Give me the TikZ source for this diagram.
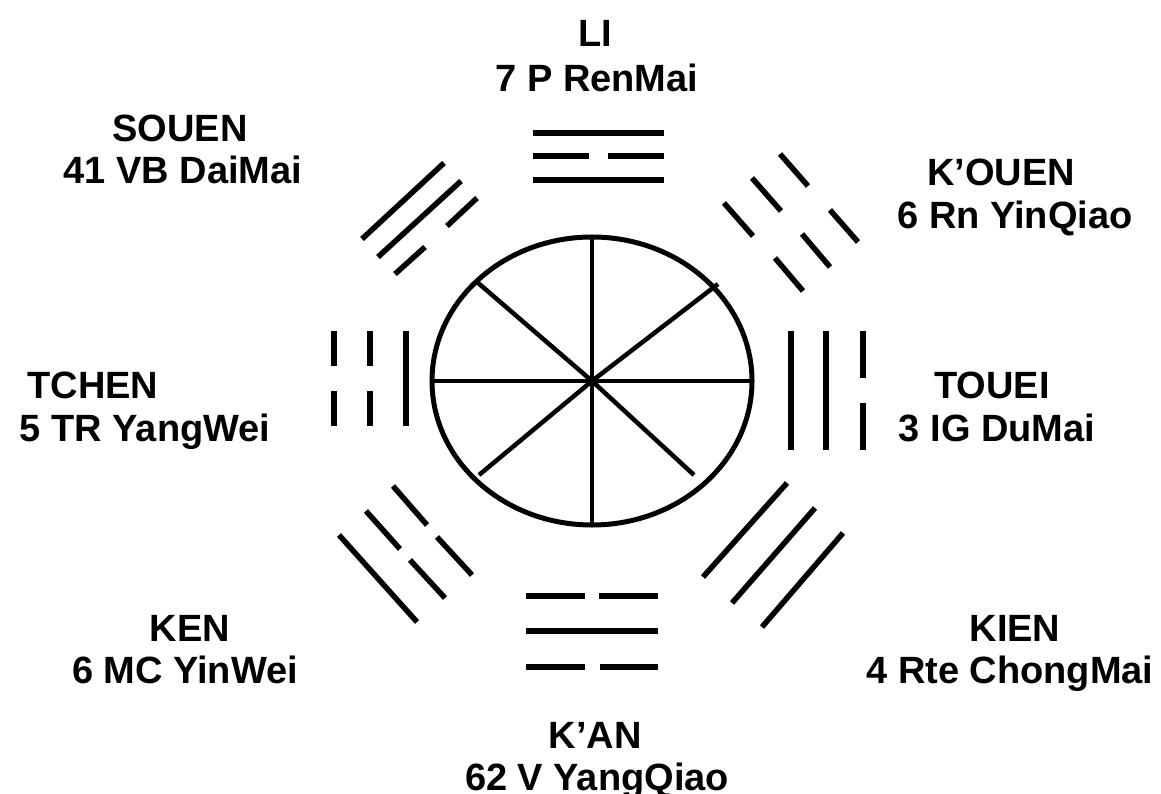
\documentclass[tikz,border=0pt]{standalone}
\usepackage{fontspec}
\setmainfont{Liberation Sans}
\usepackage{tikz}
\usepackage{tkz-euclide}

\tikzset{
  barra/.style={line width=5.5pt},
  roda/.style={line width=4.5pt},
  rotulo/.style={font=\bfseries\fontsize{38}{42}\selectfont, inner sep=0pt, text height=27pt, text depth=0pt}
}

\begin{document}
\begin{tikzpicture}[x=1pt,y=-1pt] %unidades em pixels, eixo y para baixo

\useasboundingbox (0,0) rectangle (1161,794);

%O comando \tkzDefPoints define os pontos da roda central (x/y/NomedoPonto)
\tkzDefPoints{
592/381/O,
592/237/N,
592/525/S,
433/381/W,
752/381/E,
477/282/NW,
718/284/NE,
479/475/SW,
694/475/SE}

%Pontos das barras dos trigramas
\tkzDefPoints{
533/133/Li1, 664/133/Li2, 533/156/Li3, 589/156/Li4, 608/156/Li5, 664/156/Li6, 533/180/Li7, 664/180/Li8,
526/596/Ka1, 585/596/Ka2, 599/596/Ka3, 658/596/Ka4, 526/631/Ka5, 658/631/Ka6, 526/667/Ka7, 585/667/Ka8, 600/667/Ka9, 658/667/Ka10,
334/331/Tc1, 334/366/Tc2, 334/391/Tc3, 334/426/Tc4, 370/331/Tc5, 370/366/Tc6, 370/391/Tc7, 370/426/Tc8, 406/331/Tc9, 406/426/Tc10,
791/331/To1, 791/450/To2, 826/331/To3, 826/450/To4, 863/331/To5, 863/378/To6, 863/403/To7, 863/450/To8,
362/239/So1, 444/163/So2, 378/257/So3, 461/181/So4, 395/274/So5, 425/247/So6, 447/226/So7, 477/198/So8,
780/154/Ko1, 808/186/Ko2, 830/210/Ko3, 858/242/Ko4, 752/178/Ko5, 781/211/Ko6, 802/234/Ko7, 830/267/Ko8, 724/203/Ko9, 753/236/Ko10, 775/258/Ko11, 803/291/Ko12,
339/535/Ke1, 417/622/Ke2, 366/511/Ke3, 400/549/Ke4, 410/560/Ke5, 445/598/Ke6, 393/486/Ke7, 427/525/Ke8, 437/537/Ke9, 472/575/Ke10,
703/577/Ki1, 787/483/Ki2, 732/603/Ki3, 815/508/Ki4, 762/627/Ki5, 843/533/Ki6}

%Roda central: elipse com oito raios saindo do centro (O)
%---------------------------------------------------
\draw[line width=5pt] (O) ellipse [x radius=160, y radius=144];
\foreach \p in {N,S,W,E,NW,NE,SW,SE}
  \draw[roda] (O) -- (\p);
%---------------------------------------------------

%Barras dos trigramas: cada par de pontos gera um segmento (inteiro ou partido)
%---------------------------------------------------
\foreach \a/\b in {Li1/Li2, Li3/Li4, Li5/Li6, Li7/Li8,
                   Ka1/Ka2, Ka3/Ka4, Ka5/Ka6, Ka7/Ka8, Ka9/Ka10,
                   Tc1/Tc2, Tc3/Tc4, Tc5/Tc6, Tc7/Tc8, Tc9/Tc10,
                   To1/To2, To3/To4, To5/To6, To7/To8,
                   So1/So2, So3/So4, So5/So6, So7/So8,
                   Ko1/Ko2, Ko3/Ko4, Ko5/Ko6, Ko7/Ko8, Ko9/Ko10, Ko11/Ko12,
                   Ke1/Ke2, Ke3/Ke4, Ke5/Ke6, Ke7/Ke8, Ke9/Ke10,
                   Ki1/Ki2, Ki3/Ki4, Ki5/Ki6}
  \draw[barra] (\a) -- (\b);
%---------------------------------------------------

%Rótulos: nome do trigrama e ponto/meridiano logo abaixo
%---------------------------------------------------
\node[rotulo] (nLI)  at (595,33)  {LI};
\node[rotulo] (pLI)  at (597,78)  {7 P RenMai};
\node[rotulo] (nSO)  at (180,128) {SOUEN};
\node[rotulo] (pSO)  at (183,170) {41 VB DaiMai};
\node[rotulo] (nKO)  at (1001,172) {K’OUEN};
\node[rotulo] (pKO)  at (1015,215) {6 Rn YinQiao};
\node[rotulo] (nTC)  at (93,385)  {TCHEN};
\node[rotulo] (pTC)  at (145,428) {5 TR YangWei};
\node[rotulo] (nTO)  at (992,385) {TOUEI};
\node[rotulo] (pTO)  at (997,428) {3 IG DuMai};
\node[rotulo] (nKE)  at (190,628) {KEN};
\node[rotulo] (pKE)  at (185,670) {6 MC YinWei};
\node[rotulo] (nKI)  at (1015,628) {KIEN};
\node[rotulo] (pKI)  at (1010,670) {4 Rte ChongMai};
\node[rotulo] (nKA)  at (595,735) {K’AN};
\node[rotulo] (pKA)  at (597,777) {62 V YangQiao};
%---------------------------------------------------

\end{tikzpicture}
\end{document}
